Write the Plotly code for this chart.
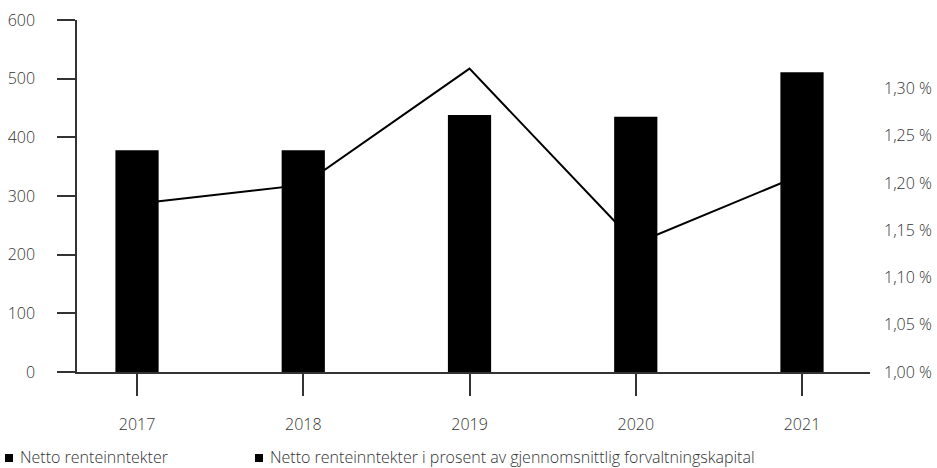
import plotly.graph_objects as go

years = ["2017", "2018", "2019", "2020", "2021"]
netto_renteinntekter = [378, 378, 438, 435, 511]
netto_prosent = [1.178, 1.198, 1.321, 1.136, 1.209]
left_ticks = [0, 100, 200, 300, 400, 500, 600]
right_ticks = [1.00, 1.05, 1.10, 1.15, 1.20, 1.25, 1.30]
right_ticktext = [f"{v:.2f}".replace(".", ",") + " %" for v in right_ticks]
legend_labels = ["Netto renteinntekter",
                 "Netto renteinntekter i prosent av gjennomsnittlig forvaltningskapital"]

W, H = 937, 468
L, R, T, B = 77, 67, 20, 96
PW, PH = W - L - R, H - T - B
FONT = "Open Sans"
FS = 16
TXT = "#333333"
AX = "#333333"

def px(x):
    return (x - L) / PW

def py(y):
    return (H - B - y) / PH

fig = go.Figure()
# line first (drawn under bars)
fig.add_trace(go.Scatter(x=years, y=netto_prosent, mode="lines",
                         line=dict(color="#000000", width=2), yaxis="y",
                         showlegend=False, hoverinfo="skip"))
fig.add_trace(go.Bar(x=years, y=netto_renteinntekter, width=0.26,
                     marker=dict(color="#000000", line=dict(width=0)),
                     yaxis="y2", showlegend=False))

fig.update_layout(
    width=W, height=H,
    margin=dict(l=L, r=R, t=T, b=B, pad=0, autoexpand=False),
    paper_bgcolor="white", plot_bgcolor="white",
    font=dict(family=FONT, size=FS, color=TXT, weight=300),
    showlegend=False,
    xaxis=dict(type="category", range=[-0.361, 4.409], showgrid=False,
               showline=True, linecolor=AX, linewidth=1.5,
               ticks="outside", ticklen=22, tickwidth=1.5, tickcolor=AX,
               ticklabelstandoff=15, zeroline=False, fixedrange=True),
    yaxis=dict(side="right", range=[1.0, 1.3725], tickmode="array",
               tickvals=right_ticks, ticktext=right_ticktext,
               showgrid=False, showline=False, ticks="", zeroline=False,
               ticklabelstandoff=13),
    yaxis2=dict(side="left", overlaying="y", range=[0, 600], tickvals=left_ticks,
                showgrid=False, showline=True, linecolor=AX, linewidth=1.5,
                ticks="outside", ticklen=18, tickwidth=1.5, tickcolor=AX,
                zeroline=False, ticklabelstandoff=19),
)

# legend drawn as squares + text
legend_pos = [(5, 18), (255, 268)]
for (sq_x, tx_x), label in zip(legend_pos, legend_labels):
    fig.add_shape(type="rect", xref="paper", yref="paper",
                  x0=px(sq_x), x1=px(sq_x + 8), y0=py(462), y1=py(454),
                  fillcolor="#000000", line=dict(width=0))
    fig.add_annotation(text=label, xref="paper", yref="paper",
                       x=px(tx_x), y=py(456.5), xanchor="left", yanchor="middle",
                       showarrow=False,
                       font=dict(family=FONT, size=FS, color=TXT, weight=300))

fig.write_html("out.html", config={"displayModeBar": False},
               post_script="document.body.style.margin='0';document.body.style.overflow='hidden';")
